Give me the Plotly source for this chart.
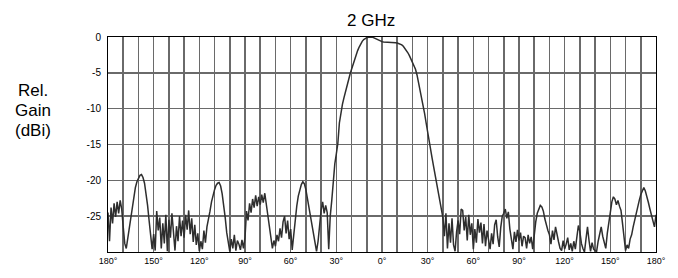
import plotly.graph_objects as go

# Angle in degrees, 1-degree steps from -180 to 180
angles = list(range(-180, 181))

# Relative gain (dBi), 10 values per row
gain = [
    -24.5, -28.5, -23.8, -26.0, -23.2, -25.1, -23.0, -24.6, -22.8, -24.0,   # -180..-171
    -26.5, -28.8, -29.5, -28.0, -26.8, -25.0, -23.6, -22.2, -21.0, -20.2,   # -170..-161
    -19.7, -19.3, -19.2, -19.6, -20.4, -21.8, -23.5, -25.6, -27.8, -29.6,   # -160..-151
    -27.5, -29.8, -24.3, -27.0, -25.2, -29.5, -26.0, -28.8, -24.8, -29.9,   # -150..-141
    -25.5, -28.0, -24.6, -27.3, -29.8, -26.4, -28.5, -25.0, -27.8, -25.6,   # -140..-131
    -28.0, -24.8, -26.9, -24.2, -27.5, -25.3, -28.6, -26.2, -29.0, -27.4,   # -130..-121
    -29.9, -28.5, -29.6, -27.0, -28.7, -26.5, -25.5, -24.3, -23.0, -22.0,   # -120..-111
    -21.3, -20.7, -20.4, -20.3, -20.8, -21.9, -23.4, -25.2, -27.3, -29.0,   # -110..-101
    -29.9, -28.2, -29.5, -27.6, -29.8, -28.4, -28.9, -29.7, -28.3, -29.5,   # -100..-91
    -28.0, -24.3, -25.6, -23.2, -24.5, -22.6, -23.8, -22.1, -23.6, -22.3,   # -90..-81
    -23.4, -22.0, -23.1, -21.8, -23.5, -25.0, -26.3, -27.9, -29.5, -28.4,   # -80..-71
    -29.2, -27.6, -28.5, -26.7, -28.0, -25.8, -25.0, -27.4, -25.6, -28.2,   # -70..-61
    -26.8, -29.7, -27.5, -25.4, -23.6, -22.2, -21.2, -20.6, -20.2, -20.5,   # -60..-51
    -21.3, -22.5, -24.0, -25.4, -26.6, -27.8, -28.9, -29.9, -28.5, -26.0,   # -50..-41
    -24.2, -23.0, -24.6, -23.5, -24.5, -29.6, -25.0, -22.8, -20.2, -17.7,   # -40..-31
    -16.3, -14.8, -12.0, -10.5, -9.4, -8.5, -7.6, -6.8, -6.0, -5.2,         # -30..-21
    -4.5, -3.8, -3.1, -2.5, -1.9, -1.4, -0.9, -0.6, -0.35, -0.2,            # -20..-11
    -0.1, -0.05, 0.0, 0.0, -0.05, -0.15, -0.3, -0.45, -0.55, -0.6,          # -10..-1
    -0.65, -0.7, -0.7, -0.72, -0.75, -0.78, -0.8, -0.8, -0.8, -0.8,         # 0..9
    -0.85, -0.9, -1.0, -1.1, -1.3, -1.55, -1.85, -2.2, -2.6, -3.1,          # 10..19
    -3.6, -4.0, -4.5, -5.3, -6.3, -7.3, -8.4, -9.5, -10.7, -12.0,           # 20..29
    -13.4, -14.6, -15.8, -17.0, -18.2, -19.4, -20.6, -21.7, -22.8, -24.0,   # 30..39
    -25.2, -27.8, -24.6, -29.5, -26.0, -28.7, -25.3, -29.0, -29.9, -27.2,   # 40..49
    -25.6, -27.5, -24.0, -24.2, -27.0, -25.1, -28.4, -24.8, -27.6, -26.0,   # 50..59
    -29.6, -26.8, -28.7, -25.4, -27.3, -25.9, -28.8, -26.1, -29.2, -27.0,   # 60..69
    -28.3, -29.6, -27.4, -28.9, -26.2, -25.5, -27.9, -29.3, -26.6, -25.0,   # 70..79
    -24.6, -24.0, -25.3, -24.4, -26.8, -28.0, -29.6, -27.2, -28.6, -26.9,   # 80..89
    -28.4, -27.3, -29.2, -27.8, -28.0, -29.5, -27.6, -28.8, -27.9, -29.6,   # 90..99
    -27.5, -25.8, -24.6, -23.9, -23.5, -23.7, -24.3, -25.4, -26.3, -27.0,   # 100..109
    -27.6, -28.9, -27.0, -28.3, -26.5, -27.8, -28.6, -29.5, -29.8, -28.4,   # 110..119
    -29.6, -28.9, -28.0, -29.7, -28.8, -29.9, -28.5, -29.6, -27.5, -26.3,   # 120..129
    -27.2, -28.8, -29.5, -30.0, -28.2, -26.5, -28.4, -29.9, -28.7, -29.6,   # 130..139
    -29.8, -29.9, -28.5, -27.3, -26.5, -27.8, -28.9, -29.5, -27.4, -25.8,   # 140..149
    -24.3, -23.0, -22.3, -22.6, -23.4, -22.8, -23.6, -24.2, -26.0, -28.2,   # 150..159
    -29.8, -29.0, -29.5, -28.2, -27.6, -26.5, -25.5, -24.6, -23.6, -22.8,   # 160..169
    -22.0, -21.4, -21.0, -21.5, -22.2, -23.1, -24.0, -24.8, -25.6, -26.5,   # 170..179
    -24.8,                                                                   # 180
]

# Axis ticks
x_grid = list(range(-180, 181, 10))
x_tick_text = [f"{abs(v)}°" if v % 30 == 0 else "" for v in x_grid]
y_grid = [0, -5, -10, -15, -20, -25, -30]
y_tick_text = ["0", "-5", "-10", "-15", "-20", "-25", ""]

title_text = "2 GHz"
ylabel_lines = ["Rel.", "Gain", "(dBi)"]

fig = go.Figure()
fig.add_trace(go.Scatter(
    x=angles, y=gain, mode="lines",
    line=dict(color="#2e2e2e", width=1.5),
    showlegend=False, hoverinfo="skip",
))

fig.update_layout(
    width=678, height=278,
    margin=dict(l=108, r=22, t=37, b=15),
    paper_bgcolor="white", plot_bgcolor="white",
    font=dict(family="Liberation Sans, Arial, sans-serif", color="black"),
    showlegend=False,
)

fig.update_xaxes(
    range=[-180, 180], tickmode="array", tickvals=x_grid, ticktext=x_tick_text,
    showgrid=True, gridcolor="#6a6a6a", gridwidth=1.5,
    showline=True, linecolor="black", linewidth=1, mirror=True,
    ticks="", tickfont=dict(size=9), zeroline=False,
)
fig.update_yaxes(
    range=[-30, 0], tickmode="array", tickvals=y_grid, ticktext=y_tick_text,
    showgrid=True, gridcolor="#6a6a6a", gridwidth=1.5,
    showline=True, linecolor="black", linewidth=1, mirror=True,
    ticks="", tickfont=dict(size=10), ticklabelstandoff=4, zeroline=False,
)

# Title
fig.add_annotation(
    text=title_text, xref="paper", yref="paper",
    x=(371 - 108) / 548, y=1 + (37 - 20) / 226,
    showarrow=False, font=dict(size=17), xanchor="center", yanchor="middle",
)

# Y-axis label, three lines
for i, line in enumerate(ylabel_lines):
    fig.add_annotation(
        text=line, xref="paper", yref="paper",
        x=(33 - 108) / 548, y=1 - (93 + 21 * i - 37) / 226,
        showarrow=False, font=dict(size=17), xanchor="center", yanchor="middle",
    )

fig.write_html(
    "out.html",
    config={"displayModeBar": False, "staticPlot": True},
    post_script="document.body.style.margin='0';document.body.style.overflow='hidden';",
)
